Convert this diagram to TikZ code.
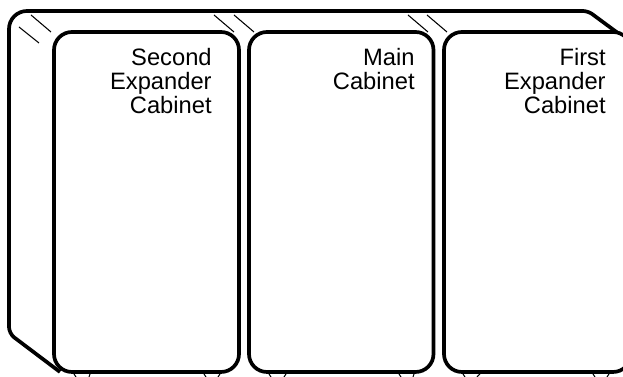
\documentclass[tikz,border=0pt]{standalone}
\usepackage{fontspec}
\setmainfont{Liberation Sans}

\begin{document}
\begin{tikzpicture}[
  cabinet/.style={draw,line width=2.1pt,rounded corners=0.36cm},
  shell/.style={line width=2.1pt},
  lbl/.style={font=\fontsize{13.5}{13.7}\selectfont,align=right,anchor=north east,inner sep=0pt},
  hatch/.style={line width=0.6pt},
  foot/.style={line width=0.6pt}]

% page is 12.46 x 7.54 (1 px = 0.02 cm)
\clip (0,0) rectangle (12.46,7.54);
\useasboundingbox (0,0) rectangle (12.46,7.54);

% ---- back shell ----
\draw[shell,rounded corners=0.13cm] (1.20,0.10) -- (0.18,0.87)
  -- (0.18,3.50);
\draw[shell,rounded corners=0.36cm] (0.18,3.50) -- (0.18,7.32)
  -- (11.60,7.32);
\draw[shell,rounded corners=0.10cm] (11.60,7.32) -- (11.76,7.32)
  -- (12.60,6.70);

% ---- top edge hatches ----
\draw[hatch] (0.62,7.24) -- (1.02,6.90);
\draw[hatch] (0.38,7.00) -- (0.78,6.68);
\draw[hatch] (4.28,7.24) -- (4.68,6.90);
\draw[hatch] (4.68,7.24) -- (5.08,6.90);
\draw[hatch] (8.16,7.24) -- (8.56,6.90);
\draw[hatch] (8.54,7.24) -- (8.94,6.90);

% ---- cabinets ----
\node[cabinet,fill=white,minimum width=3.70cm,minimum height=6.80cm,inner sep=0pt]
  (second) at (2.93,3.50) {};
\node[cabinet,fill=white,minimum width=3.69cm,minimum height=6.80cm,inner sep=0pt]
  (main) at (6.825,3.50) {};
\node[cabinet,fill=white,minimum width=3.74cm,minimum height=6.80cm,inner sep=0pt]
  (first) at (10.75,3.50) {};

% ---- labels ----
\node[lbl] (secondlbl) at (4.24,6.58) {Second\\Expander\\Cabinet};
\node[lbl] (mainlbl) at (8.30,6.58) {Main\\Cabinet};
\node[lbl] (firstlbl) at (12.12,6.58) {First\\Expander\\Cabinet};

% ---- feet below the cabinets ----
\draw[foot] (1.48,0.06) -- (1.52,0);
\draw[foot] (1.80,0.06) -- (1.78,0);
\draw[foot] (4.08,0.06) -- (4.12,0);
\draw[foot] (4.40,0.06) -- (4.36,0);
\draw[foot] (5.38,0.06) -- (5.42,0);
\draw[foot] (5.72,0.06) -- (5.68,0);
\draw[foot] (7.98,0.06) -- (8.02,0);
\draw[foot] (8.28,0.06) -- (8.26,0);
\draw[foot] (9.26,0.06) -- (9.30,0);
\draw[foot] (9.60,0.06) -- (9.54,0);
\draw[foot] (11.86,0.06) -- (11.90,0);
\draw[foot] (12.18,0.06) -- (12.14,0);
\end{tikzpicture}
\end{document}
